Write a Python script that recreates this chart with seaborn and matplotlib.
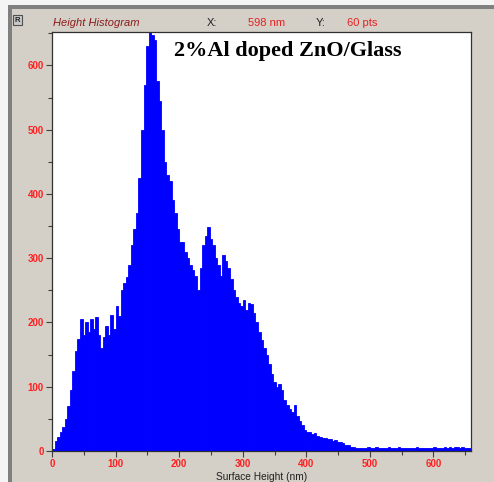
import numpy as np
import pandas as pd
import matplotlib
matplotlib.use("Agg")
import matplotlib.pyplot as plt
from matplotlib.patches import Rectangle
from matplotlib.ticker import MultipleLocator
import seaborn as sns

# ---- data (4 nm bins starting at 0 nm) ----
bin_width = 4
counts = [3, 15, 22, 30, 38, 50, 70, 95, 125, 155,
          175, 205, 180, 200, 185, 205, 190, 208, 180, 160,
          178, 195, 180, 212, 190, 225, 210, 250, 262, 270,
          290, 320, 345, 370, 425, 500, 570, 630, 652, 648,
          640, 575, 545, 500, 450, 430, 420, 390, 370, 345,
          325, 325, 310, 300, 290, 282, 272, 250, 285, 320,
          335, 348, 330, 320, 300, 290, 272, 305, 295, 285,
          268, 250, 240, 230, 225, 235, 220, 230, 228, 215,
          200, 185, 172, 160, 150, 135, 120, 108, 100, 104,
          95, 80, 72, 65, 60, 72, 55, 46, 40, 32,
          30, 30, 27, 28, 24, 22, 20, 21, 18, 18,
          16, 17, 14, 14, 12, 10, 9, 7, 6, 5,
          5, 4, 5, 4, 6, 4, 5, 7, 4, 5,
          4, 5, 6, 4, 5, 4, 7, 5, 4, 5,
          4, 4, 5, 6, 4, 5, 4, 5, 5, 4,
          6, 5, 4, 5, 6, 5, 6, 5, 6, 6,
          5, 6, 5, 4, 5]
x_ticks = [0, 100, 200, 300, 400, 500, 600]
y_ticks = [0, 100, 200, 300, 400, 500, 600]
title_text = "2%Al doped ZnO/Glass"
header_label = "Height Histogram"
x_readout = "598 nm"
y_readout = "60 pts"
x_label = "Surface Height (nm)"

edges = [float(i * bin_width) for i in range(len(counts) + 1)]
centers = [e + bin_width / 2 for e in edges[:-1]]
df = pd.DataFrame({"height": centers, "count": counts})

W, H = 494, 482
fig = plt.figure(figsize=(W / 100, H / 100), dpi=100)
fig.patch.set_facecolor("#d4d0c8")

def px(x, y):
    return x / W, 1 - y / H

# window chrome
fig.patches.append(Rectangle((0, 1 - 5 / H), 1, 5 / H, transform=fig.transFigure,
                             facecolor="#f4f4f4", edgecolor="none", zorder=0))
fig.patches.append(Rectangle((0, 1 - 9 / H), 1, 4 / H, transform=fig.transFigure,
                             facecolor="#808080", edgecolor="none", zorder=0))
fig.patches.append(Rectangle((0, 0), 8 / W, 1 - 5 / H, transform=fig.transFigure,
                             facecolor="#f4f4f4", edgecolor="none", zorder=0))
fig.patches.append(Rectangle((8 / W, 0), 4 / W, 1 - 9 / H, transform=fig.transFigure,
                             facecolor="#808080", edgecolor="none", zorder=0))
fig.patches.append(Rectangle((13 / W, 1 - 25 / H), 9 / W, 10 / H, transform=fig.transFigure,
                             facecolor="#c8c8c8", edgecolor="#505050", linewidth=0.8, zorder=1))
fig.text(17.5 / W, 1 - 20 / H, "R", fontsize=5.5, ha="center", va="center",
         family="Liberation Sans", fontweight="bold", color="#202020")

left, right, top, bottom = 52, 471, 32, 451
ax = fig.add_axes([left / W, 1 - bottom / H, (right - left) / W, (bottom - top) / H])
ax.set_facecolor("white")

sns.histplot(data=df, x="height", weights="count", bins=edges, ax=ax,
             color="#0000ff", alpha=1.0, linewidth=0.6, edgecolor="#0000ff",
             element="bars")

ax.set_xlim(0, 659)
ax.set_ylim(0, 652)
ax.set_xticks(x_ticks)
ax.set_yticks(y_ticks)
ax.xaxis.set_minor_locator(MultipleLocator(50))
ax.yaxis.set_minor_locator(MultipleLocator(50))
for lab in ax.get_xticklabels() + ax.get_yticklabels():
    lab.set_family("Liberation Sans")
    lab.set_fontweight("bold")
ax.tick_params(axis="both", which="major", length=4, width=0.8, color="#404040",
               labelsize=7, labelcolor="#ff2020", pad=2)
ax.tick_params(axis="both", which="minor", length=3, width=0.8, color="#404040")
for s in ax.spines.values():
    s.set_color("#303030")
    s.set_linewidth(0.9)
ax.set_ylabel("")
ax.set_xlabel(x_label, fontsize=7.3, family="Liberation Sans", color="#202020", labelpad=2)

ax.text(0.29, 0.978, title_text, transform=ax.transAxes, fontsize=16,
        family="Liberation Serif", fontweight="bold", color="black", va="top", ha="left")

# header readouts
fig.text(*px(53, 23), header_label, fontsize=8, family="Liberation Sans", style="italic",
         color="#8b1c1c", va="center", ha="left")
fig.text(*px(207, 23), "X:", fontsize=8, family="Liberation Sans", color="#202020",
         va="center", ha="left")
fig.text(*px(248, 23), x_readout, fontsize=8, family="Liberation Sans", color="#e82020",
         va="center", ha="left")
fig.text(*px(316, 23), "Y:", fontsize=8, family="Liberation Sans", color="#202020",
         va="center", ha="left")
fig.text(*px(347, 23), y_readout, fontsize=8, family="Liberation Sans", color="#e82020",
         va="center", ha="left")

fig.savefig("out.png", dpi=100, facecolor=fig.get_facecolor())
